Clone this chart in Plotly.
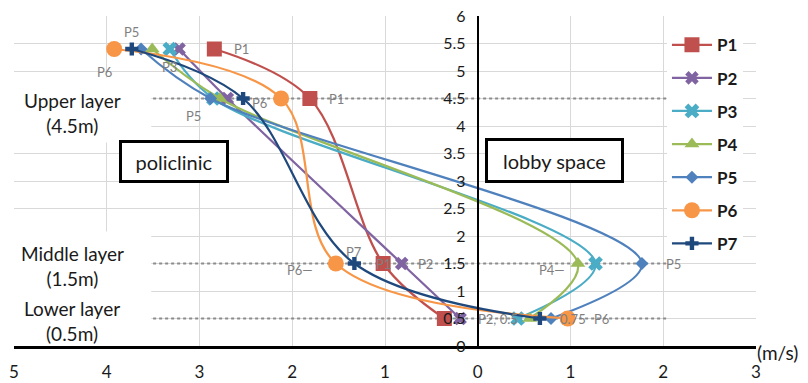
import plotly.graph_objects as go

# Measurement heights (m) and air velocity (m/s) at each point.
# Negative velocity = flow toward the policlinic, positive = toward the lobby space.
heights = [5.4, 4.5, 1.5, 0.5]
series_names = ["P1", "P2", "P3", "P4", "P5", "P6", "P7"]
p1 = [-2.84, -1.81, -1.02, -0.36]
p2 = [-3.22, -2.70, -0.82, -0.19]
p3 = [-3.32, -2.85, 1.27, 0.43]
p4 = [-3.51, -2.78, 1.08, 0.56]
p5 = [-3.63, -2.88, 1.77, 0.79]
p6 = [-3.92, -2.12, -1.53, 0.97]
p7 = [-3.73, -2.53, -1.33, 0.67]
velocities = [p1, p2, p3, p4, p5, p6, p7]

x_ticks = [-5, -4, -3, -2, -1, 0, 1, 2, 3]
x_tick_text = [str(abs(v)) for v in x_ticks]

layer_heights = [4.5, 1.5, 0.5]
layer_names = ["Upper layer<br>(4.5m)", "Middle layer<br>(1.5m)", "Lower layer<br>(0.5m)"]

colors = ["#C0504D", "#8064A2", "#4BACC6", "#9BBB59", "#4F81BD", "#F79646", "#1F497D"]
symbols = ["square", "x", "x", "triangle-up", "diamond", "circle", "cross"]
sizes = [15, 12, 13, 13, 10, 16, 11]

FONT = "Lato, 'Open Sans', sans-serif"
TEXT = "#1a1a1a"
GRAY = "#7f7f7f"

fig = go.Figure()
for name, vals, c, sym, sz in zip(series_names, velocities, colors, symbols, sizes):
    fig.add_trace(go.Scatter(
        x=vals, y=heights, name=name, legendgroup=name,
        mode="lines+markers",
        line=dict(color=c, width=2.25, shape="spline", smoothing=1.0),
        marker=dict(symbol=sym, size=sz, color=c),
    ))

# Data labels: (series index, point index, text, x shift px, y shift px)
point_labels = [
    (4, 0, "P5", -10, 17),
    (5, 0, "P6", -10, -23),
    (2, 0, "P3", 0, -18),
    (0, 0, "P1", 27, 0),
    (0, 1, "P1", 27, 0),
    (4, 1, "P5", -17, -17),
    (5, 1, "P6", -22, -4),
    (5, 2, "P6—", -36, -6),
    (6, 2, "P7", 0, 12),
    (0, 2, "P1", 0, 0),
    (1, 2, "P2", 24, 0),
    (3, 2, "P4—", -26, -6),
    (4, 2, "P5", 32, 0),
    (1, 3, "P2, 0.5", 38, 0),
    (4, 3, "0.75", 22, 0),
    (5, 3, "P6", 34, 0),
]
for si, pi, txt, dx, dy in point_labels:
    fig.add_annotation(
        x=velocities[si][pi], y=heights[pi], text=txt, showarrow=False,
        xshift=dx, yshift=dy, font=dict(family=FONT, size=13, color=GRAY),
    )

# White panels behind the layer captions
fig.add_shape(type="rect", xref="x", yref="y", x0=-5, x1=-3.52, y0=3.7, y1=4.88,
              fillcolor="white", line=dict(width=0), layer="between")
fig.add_shape(type="rect", xref="x", yref="y", x0=-5, x1=-3.52, y0=0, y1=2.08,
              fillcolor="white", line=dict(width=0), layer="between")

# Dotted guide lines at the three measurement layers
for h in layer_heights:
    fig.add_shape(type="line", xref="x", yref="y", x0=-3.5, x1=2.05, y0=h, y1=h,
                  line=dict(color="#8c8c8c", width=2, dash="dot"), layer="between")

caption_y = [4.23, 1.45, 0.45]
for txt, yy in zip(layer_names, caption_y):
    fig.add_annotation(x=-4.37, y=yy, xref="x", yref="y", text=txt, showarrow=False,
                       font=dict(family=FONT, size=19, color=TEXT), align="center")

# Zone boxes
fig.add_annotation(x=-3.27, y=3.36, xref="x", yref="y", text="policlinic", showarrow=False,
                   font=dict(family=FONT, size=20, color=TEXT), bgcolor="white",
                   bordercolor="black", borderwidth=3, borderpad=0, width=104, height=37)
fig.add_annotation(x=0.83, y=3.38, xref="x", yref="y", text="lobby space", showarrow=False,
                   font=dict(family=FONT, size=20, color=TEXT), bgcolor="white",
                   bordercolor="black", borderwidth=3, borderpad=0, width=133, height=39)

# Axis unit
fig.add_annotation(x=1.0, y=0, xref="paper", yref="paper", text="(m/s)", showarrow=False,
                   xanchor="left", yanchor="middle", xshift=-1, yshift=-6,
                   font=dict(family=FONT, size=19, color=TEXT))

fig.update_layout(
    width=808, height=383,
    margin=dict(l=14, r=52, t=16, b=37, autoexpand=False),
    paper_bgcolor="white", plot_bgcolor="white",
    font=dict(family=FONT, color=TEXT),
    showlegend=True,
    legend=dict(x=0.88, y=0.966, xanchor="left", yanchor="top", bgcolor="white",
                font=dict(family=FONT, size=17, color=TEXT, weight="bold"),
                tracegroupgap=8, itemwidth=40),
    xaxis=dict(range=[-5, 3], tickvals=x_ticks, ticktext=x_tick_text, automargin=False,
               showgrid=True, gridcolor="#d9d9d9", gridwidth=1, zeroline=False,
               showline=True, linecolor="black", linewidth=3, ticks="",
               tickfont=dict(family=FONT, size=17, color=TEXT), ticklabelstandoff=9),
    yaxis=dict(range=[0, 6], dtick=0.5, showgrid=True, gridcolor="#d9d9d9", gridwidth=1,
               automargin=False,
               zeroline=False, anchor="free", position=0.625, showline=True,
               linecolor="black", linewidth=2, ticks="",
               tickfont=dict(family=FONT, size=16, color=TEXT), ticklabelstandoff=8),
)

fig.write_html("out.html")
